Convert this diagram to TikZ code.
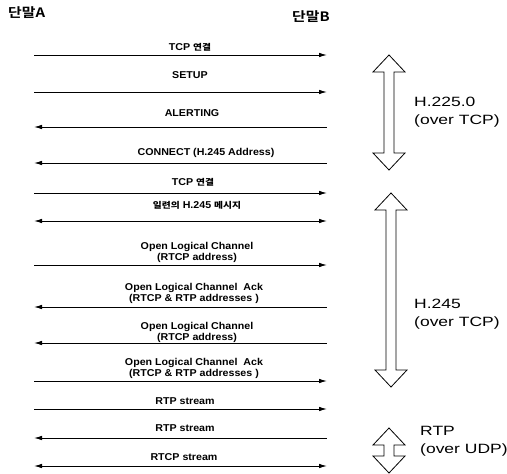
\documentclass[tikz,border=0pt]{standalone}
\usepackage{fontspec}
\setmainfont{Liberation Sans}
\newfontfamily\lblfont{Liberation Sans}[FakeStretch=1.07]
\newfontfamily\sidefont{Liberation Sans}[FakeStretch=1.3]
\newfontfamily\krb{Noto Sans CJK KR Bold}[FakeStretch=1.15]
\usetikzlibrary{arrows.meta}
\newcommand{\K}[1]{{\krb\fontsize{8.5}{11}\selectfont #1}}
\tikzset{
  tipA/.tip={Latex[length=8bp,width=4.5bp]},
  msgr/.style={line width=0.9bp,-tipA},
  msgl/.style={line width=0.9bp,tipA-},
  msgb/.style={line width=0.9bp,tipA-tipA},
  lab/.style={font=\lblfont\bfseries\fontsize{10}{11}\selectfont,align=center,inner sep=0pt},
  sidelab/.style={font=\sidefont\fontsize{13.5}{18.5}\selectfont,align=left,anchor=west,inner sep=0pt},
  hdr/.style={font=\krb\fontsize{13}{15}\selectfont,inner sep=0pt},
  blk/.style={draw,line width=0.8bp,fill=white,line join=miter}
}
\newcommand{\blockarr}[3]{%
  \draw[blk] (#1,#2) -- (#1+16,#2+17) -- (#1+5,#2+17) -- (#1+5,#3-17) -- (#1+16,#3-17)
    -- (#1,#3) -- (#1-16,#3-17) -- (#1-5,#3-17) -- (#1-5,#2+17) -- (#1-16,#2+17) -- cycle;}
\begin{document}
\begin{tikzpicture}[x=1bp,y=-1bp]
\useasboundingbox (0,0) rectangle (507,474);
% headers
\node[hdr,anchor=west] (hA) at (8,13) {단말A};
\node[hdr,anchor=west] (hB) at (292,17) {단말B};
% message arrows
\foreach \n/\yy/\st in {1/55/msgr,2/92/msgr,3/127/msgl,4/163/msgl,5/193/msgr,6/221/msgb,
  7/265/msgr,8/307/msgl,9/343/msgl,10/381/msgr,11/409/msgr,12/438/msgl,13/466/msgb}{
  \coordinate (a\n) at (34,\yy);
  \coordinate (b\n) at (327,\yy);
  \draw[\st] (a\n) -- (b\n);
}
% labels
\node[lab] (l1) at (190,47) {TCP \K{연결}};
\node[lab] (l2) at (190,75) {SETUP};
\node[lab] (l3) at (192,113) {ALERTING};
\node[lab] (l4) at (206,153) {CONNECT (H.245 Address)};
\node[lab] (l5) at (193,182) {TCP \K{연결}};
\node[lab] (l6) at (197,205) {\K{일련의} H.245 \K{메시지}};
\node[lab] (l7) at (197,252.5) {Open Logical Channel\\(RTCP address)};
\node[lab] (l8) at (194,293.5) {Open Logical Channel\ \ Ack\\(RTCP \& RTP addresses )};
\node[lab] (l9) at (197,332) {Open Logical Channel\\(RTCP address)};
\node[lab] (l10) at (194,368) {Open Logical Channel\ \ Ack\\(RTCP \& RTP addresses )};
\node[lab] (l11) at (185,401) {RTP stream};
\node[lab] (l12) at (185,428) {RTP stream};
\node[lab] (l13) at (184,457) {RTCP stream};
% block arrows
\blockarr{389}{55}{170}
\blockarr{391}{193}{387}
\blockarr{389}{428}{473}
\node[sidelab] (s1) at (414,112) {H.225.0\\(over TCP)};
\node[sidelab] (s2) at (414,314) {H.245\\(over TCP)};
\node[sidelab] (s3) at (420,441) {RTP\\(over UDP)};
\end{tikzpicture}
\end{document}
